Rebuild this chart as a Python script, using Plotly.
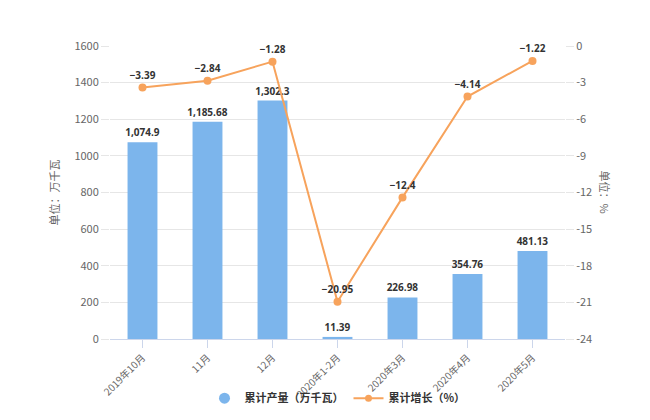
import plotly.graph_objects as go

categories = ["2019年10月", "11月", "12月", "2020年1-2月", "2020年3月", "2020年4月", "2020年5月"]
output_vals = [1074.9, 1185.68, 1302.3, 11.39, 226.98, 354.76, 481.13]
growth_vals = [-3.39, -2.84, -1.28, -20.95, -12.4, -4.14, -1.22]
left_ticks = [0, 200, 400, 600, 800, 1000, 1200, 1400, 1600]
right_ticks = [0, -3, -6, -9, -12, -15, -18, -21, -24]

bar_text = [f"<b>{v:,}</b>" for v in output_vals]
line_text = ["<b>" + f"{v}".replace("-", "\u2212") + "</b>" for v in growth_vals]

label_font = dict(size=10, color="#333333", family="Open Sans, DejaVu Sans")

fig = go.Figure()
fig.add_trace(go.Bar(
    x=categories, y=output_vals, name="累计产量（万千瓦）",
    marker=dict(color="#7cb5ec", line=dict(width=0)),
    width=0.46, showlegend=False,
    text=bar_text, textposition="outside", cliponaxis=False,
    constraintext="none", textfont=label_font,
))
fig.add_trace(go.Scatter(
    x=categories, y=growth_vals, name="累计增长（%）", yaxis="y2",
    mode="lines+markers+text",
    line=dict(color="#f7a35c", width=2),
    marker=dict(color="#f7a35c", size=8),
    text=line_text, textposition="top center", cliponaxis=False,
    textfont=label_font, showlegend=False,
))
# legend entries
fig.add_trace(go.Scatter(
    x=[categories[0]], y=[None], name="<b>累计产量（万千瓦）</b>", mode="markers",
    marker=dict(color="#7cb5ec", size=11, symbol="circle"),
))
fig.add_trace(go.Scatter(
    x=[categories[0]], y=[None], name="<b>累计增长（%）</b>", mode="lines+markers", yaxis="y2",
    line=dict(color="#f7a35c", width=2), marker=dict(color="#f7a35c", size=7),
))

fig.update_layout(
    width=650, height=420,
    margin=dict(l=110, r=85, t=46, b=81, autoexpand=False),
    paper_bgcolor="white", plot_bgcolor="white",
    font=dict(family="Noto Sans CJK SC, DejaVu Sans", size=11, color="#666666"),
    showlegend=True,
    legend=dict(orientation="h", x=0.5, xanchor="center", yref="container",
                y=0.052, yanchor="middle", bgcolor="rgba(0,0,0,0)",
                font=dict(size=11, color="#333333"), itemwidth=30),
    xaxis=dict(
        type="category", tickangle=-45, automargin=False,
        showline=True, linecolor="#ccd6eb", linewidth=1,
        ticks="outside", ticklen=8, tickcolor="#ccd6eb",
        showgrid=False, tickfont=dict(size=10, color="#666666"),
    ),
    yaxis=dict(
        range=[0, 1600], tickvals=left_ticks, automargin=False,
        showgrid=True, gridcolor="#e6e6e6", zeroline=False,
        ticks="outside", ticklen=8, tickcolor="#e6e6e6",
        tickfont=dict(size=11, color="#666666"),
        title=dict(text="单位：万千瓦", font=dict(size=11, color="#666666"), standoff=12),
    ),
    yaxis2=dict(
        range=[-24, 0], tickvals=right_ticks, automargin=False,
        ticktext=[str(v) for v in right_ticks],
        overlaying="y", side="right",
        showgrid=False, zeroline=False,
        ticks="outside", ticklen=8, tickcolor="#e6e6e6",
        tickfont=dict(size=11, color="#666666"),
    ),
    annotations=[dict(
        text="单位：%", textangle=90, xref="paper", yref="paper",
        x=1.09, y=0.5, xanchor="center", yanchor="middle", showarrow=False,
        font=dict(size=11, color="#666666"),
    )],
)

fig.write_html("out.html")
